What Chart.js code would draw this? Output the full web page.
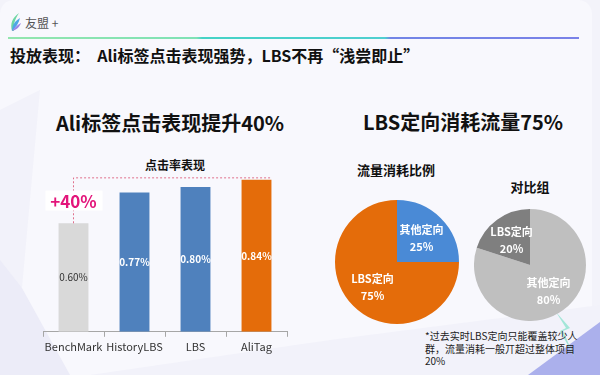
<!DOCTYPE html>
<html>
<head>
<meta charset="utf-8">
<script src="https://cdn.jsdelivr.net/npm/chart.js@4"></script>
<style>
  html, body { margin: 0; padding: 0; }
  body { width: 600px; height: 375px; position: relative; overflow: hidden; background: #F3F3FA;
         font-family: 'Noto Sans CJK SC', 'Noto Sans', sans-serif; color: #111; }
  .abs { position: absolute; white-space: pre; }
  canvas { position: absolute; }
</style>
</head>
<body>
<svg class="abs" width="600" height="375" style="left:0;top:0">
  <defs>
    <linearGradient id="rule" x1="0" x2="1" y1="0" y2="0">
      <stop offset="0" stop-color="#93E6AE"/>
      <stop offset="0.33" stop-color="#7FE2B6"/>
      <stop offset="0.34" stop-color="#45D3C6"/>
      <stop offset="0.66" stop-color="#4FCFD0"/>
      <stop offset="0.67" stop-color="#7285E6"/>
      <stop offset="1" stop-color="#7A82E8"/>
    </linearGradient>
  </defs>
  <rect x="0" y="0" width="592" height="375" rx="14" fill="#F8F8FD"/>
  <polygon points="0,225 22,288 70,375 0,375" fill="#ECECF8"/>
  <polygon points="0,110 40,90 22,288 0,260" fill="#F2F2FA"/>
  <polygon points="90,375 330,340 600,305 600,375" fill="#F2F2FA"/>
  <polygon points="600,322 600,375 528,375" fill="#ABB0EC"/>
  <polygon points="556,312 570,328 563,331 575,358 560,331 566,328" fill="#A3E6D8"/>
  <rect x="8" y="37" width="571" height="2" fill="url(#rule)"/>
  <path d="M19,13 C12,18 10,24 12,31 L14,31 C13,25 15,19 19,13 Z" fill="#6DD6A4"/>
  <path d="M20,18 C15,21 12,25 12,31 C16,27 19,23 20,18 Z" fill="#4FA6E6"/>
  <path d="M21,23 C17,25 14,28 12,31 C16,30 19,28 21,23 Z" fill="#9A86E8"/>
</svg>

<div class="abs" style="left:25px;top:15px;font-size:12px;line-height:16px;color:#555">友盟 +</div>
<div class="abs" style="left:10px;top:45px;font-size:16px;line-height:20px;font-weight:bold">投放表现：  Ali标签点击表现强势，LBS不再“浅尝即止”</div>

<div class="abs" style="left:20px;width:300px;top:110px;text-align:center;font-size:20px;line-height:26px;font-weight:bold">Ali标签点击表现提升40%</div>
<div class="abs" style="left:313px;width:300px;top:109px;text-align:center;font-size:20px;line-height:26px;font-weight:bold">LBS定向消耗流量75%</div>

<div class="abs" style="left:125px;width:100px;top:157px;text-align:center;font-size:12px;line-height:16px;font-weight:bold">点击率表现</div>
<div class="abs" style="left:346px;width:100px;top:161px;text-align:center;font-size:13px;line-height:18px;font-weight:bold">流量消耗比例</div>
<div class="abs" style="left:480px;width:100px;top:178px;text-align:center;font-size:13px;line-height:18px;font-weight:bold">对比组</div>

<div class="abs" style="left:425px;top:330px;font-size:10px;line-height:12.5px;color:#222">*过去实时LBS定向只能覆盖较少人
群，流量消耗一般丌超过整体项目
20%</div>

<canvas id="bars" width="310" height="206" style="left:0;top:150px"></canvas>
<canvas id="pieTraffic" width="124" height="124" style="left:335px;top:200px"></canvas>
<canvas id="pieControl" width="112" height="112" style="left:474px;top:209px"></canvas>

<script>
const FONT = "'Noto Sans CJK SC', 'Noto Sans', sans-serif";

// 点击率表现
const categories = ['BenchMark', 'HistoryLBS', 'LBS', 'AliTag'];
const clickRates = [0.60, 0.77, 0.80, 0.84];
const barColors = ['#D9D9D9', '#4F81BD', '#4F81BD', '#E46C0A'];
const barLabelColors = ['#333333', '#ffffff', '#ffffff', '#ffffff'];

// 流量消耗比例
const trafficLabels = ['其他定向', 'LBS定向'];
const trafficShare = [25, 75];
const trafficColors = ['#4A8AD6', '#E46C0A'];

// 对比组
const controlLabels = ['其他定向', 'LBS定向'];
const controlShare = [80, 20];
const controlColors = ['#BFBFBF', '#7F7F7F'];

Chart.defaults.font.family = FONT;

const barLabels = {
  id: 'barLabels',
  afterDatasetsDraw(chart) {
    const ctx = chart.ctx;
    const meta = chart.getDatasetMeta(0);
    ctx.save();
    ctx.textAlign = 'center';
    ctx.textBaseline = 'middle';
    meta.data.forEach((bar, i) => {
      ctx.fillStyle = barLabelColors[i];
      ctx.font = (i === 0 ? '' : 'bold ') + '10px ' + FONT;
      ctx.fillText(clickRates[i].toFixed(2) + '%', bar.x, (bar.y + bar.base) / 2);
    });

    // dashed bracket from BenchMark up to AliTag
    const first = meta.data[0];
    const last = meta.data[meta.data.length - 1];
    const lineY = last.y - 2;
    ctx.strokeStyle = '#E0708C';
    ctx.lineWidth = 1;
    ctx.setLineDash([2, 2]);
    ctx.beginPath();
    ctx.moveTo(first.x, first.y);
    ctx.lineTo(first.x, lineY);
    ctx.lineTo(last.x + last.width / 2, lineY);
    ctx.stroke();
    ctx.setLineDash([]);

    const lift = Math.round((clickRates[clickRates.length - 1] / clickRates[0] - 1) * 100);
    const midY = (first.y + lineY) / 2;
    ctx.fillStyle = '#ffffff';
    ctx.fillRect(first.x - 28, midY - 10, 57, 20);
    ctx.fillStyle = '#E3157A';
    ctx.font = 'bold 17px ' + FONT;
    ctx.fillText('+' + lift + '%', first.x, midY + 1);
    ctx.restore();
  }
};

new Chart(document.getElementById('bars'), {
  type: 'bar',
  data: {
    labels: categories,
    datasets: [{
      data: clickRates,
      backgroundColor: barColors,
      barPercentage: 0.49,
      categoryPercentage: 1.0
    }]
  },
  options: {
    responsive: false,
    animation: false,
    layout: { padding: { left: 43, right: 23, top: 19, bottom: 0 } },
    plugins: { legend: { display: false }, tooltip: { enabled: false } },
    scales: {
      x: {
        grid: { display: true, drawOnChartArea: false, color: '#A6A6A6', tickLength: 5, offset: true },
        border: { color: '#A6A6A6' },
        ticks: { color: '#333', font: { size: 11 }, padding: 3, maxRotation: 0, minRotation: 0, autoSkip: false }
      },
      y: { display: false, min: 0, max: 0.9 }
    }
  },
  plugins: [barLabels]
});

const sliceLabels = {
  id: 'sliceLabels',
  afterDatasetsDraw(chart) {
    const ctx = chart.ctx;
    const meta = chart.getDatasetMeta(0);
    const labels = chart.data.labels;
    const values = chart.data.datasets[0].data;
    ctx.save();
    ctx.fillStyle = '#ffffff';
    ctx.font = 'bold 11px ' + FONT;
    ctx.textAlign = 'center';
    ctx.textBaseline = 'middle';
    meta.data.forEach((arc, i) => {
      const mid = (arc.startAngle + arc.endAngle) / 2;
      const r = arc.outerRadius * 0.56;
      const x = arc.x + Math.cos(mid) * r;
      const y = arc.y + Math.sin(mid) * r;
      ctx.fillText(labels[i], x, y - 8);
      ctx.fillText(values[i] + '%', x, y + 9);
    });
    ctx.restore();
  }
};

function pie(id, labels, values, colors) {
  return new Chart(document.getElementById(id), {
    type: 'pie',
    data: { labels: labels, datasets: [{ data: values, backgroundColor: colors, borderWidth: 0 }] },
    options: {
      responsive: false,
      animation: false,
      plugins: { legend: { display: false }, tooltip: { enabled: false } }
    },
    plugins: [sliceLabels]
  });
}

pie('pieTraffic', trafficLabels, trafficShare, trafficColors);
pie('pieControl', controlLabels, controlShare, controlColors);
</script>
</body>
</html>
